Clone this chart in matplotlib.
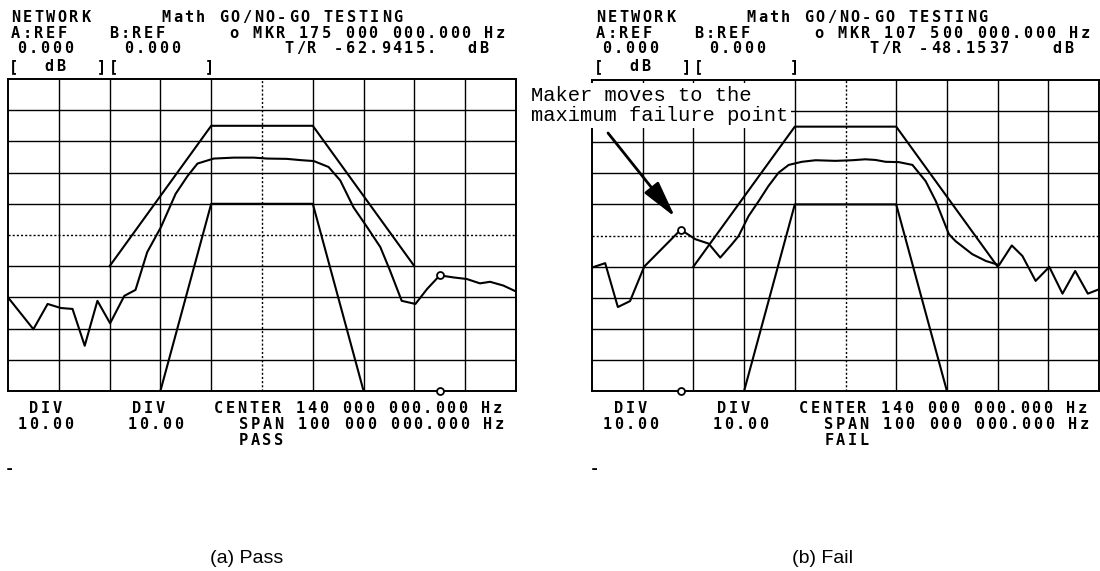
import matplotlib
matplotlib.use('Agg')
import matplotlib.pyplot as plt

# Datos (frecuencia en MHz, nivel en dB)
frec_pasa = [90, 95, 97.8, 100.4, 102.7, 105.1, 107.6, 110.1, 112.9, 115.1, 117.4, 120.1, 123, 125.3,
             127.3, 130.5, 134.5, 138.4, 141, 144.9, 147.6, 150.2, 153.1, 155.4, 158, 160.7, 163.3,
             165.2, 167.5, 170.2, 172.5, 175, 177.7, 180.3, 182.9, 184.9, 187.5, 190]
db_pasa = [-70, -80.2, -72.1, -73.4, -73.7, -85.5, -71.1, -78.3, -69.5, -67.6, -55.5, -47.5, -36.8, -31.2,
           -27.1, -25.5, -25.2, -25.2, -25.5, -25.6, -26, -26.3, -28.2, -32.5, -41.1, -47.5, -53.9,
           -61.4, -71.1, -72.1, -67.3, -62.94, -63.6, -64.1, -65.5, -65, -66.2, -68.1]

frec_falla = [90, 92.6, 95.1, 97.5, 100.3, 107.5, 110.4, 113, 115.3, 117.6, 118.9, 120.9, 122.9, 124.8,
              126.8, 128.8, 131.4, 134.1, 138, 141.3, 143.9, 145.9, 147.9, 150.5, 153.2, 155.8, 157.8,
              160.4, 161.7, 165, 167.7, 170.3, 172.8, 174.9, 177.5, 180.2, 182.8, 185.3, 187.8, 190]
db_falla = [-60.3, -58.9, -73, -71.1, -60, -48.15, -51.2, -52.6, -57.1, -52.8, -50.2, -43.7, -38.9, -34.1,
            -29.8, -27.3, -26.3, -25.8, -26, -25.8, -25.5, -25.7, -26.3, -26.4, -27.3, -32.5, -38.9,
            -49.6, -51.8, -56, -58.2, -59.5, -53.2, -56.6, -64.6, -60.1, -68.7, -61.4, -68.7, -67.3]

frec_lim_sup = [110, 130, 150, 170]
db_lim_sup = [-60, -15, -15, -60]
frec_lim_inf = [120, 130, 150, 160]
db_lim_inf = [-100, -40, -40, -100]

mkr_pasa = (175.0, -62.9415)
mkr_falla = (107.5, -48.1537)

W, H = 1100, 571
PASO = 11.6
fuente = dict(family='DejaVu Sans Mono', fontweight='bold', fontsize=11)

fig = plt.figure(figsize=(11, 5.71), dpi=100)


def caja(x0, y0, x1, y1):
    return [x0 / W, 1 - y1 / H, (x1 - x0) / W, (y1 - y0) / H]


def pantalla(ax, frec, db, mkr):
    ax.set_xlim(90, 190)
    ax.set_ylim(-100, 0)
    ax.set_xticks([])
    ax.set_yticks([])
    for s in ax.spines.values():
        s.set_linewidth(1.4)
    for f in range(100, 190, 10):
        ax.axvline(f, color='k', lw=1.0, ls=(0, (1.5, 1.5)) if f == 140 else '-')
    for d in range(-90, 0, 10):
        ax.axhline(d, color='k', lw=1.0, ls=(0, (1.5, 1.5)) if d == -50 else '-')
    ax.plot(frec_lim_sup, db_lim_sup, color='k', lw=1.5)
    ax.plot(frec_lim_inf, db_lim_inf, color='k', lw=1.5)
    ax.plot(frec, db, color='k', lw=1.5)
    ax.plot([mkr[0]], [mkr[1]], 'o', mfc='white', mec='k', ms=5, mew=1.3, zorder=5)
    ax.plot([mkr[0]], [-100], 'o', mfc='white', mec='k', ms=5, mew=1.3, zorder=5, clip_on=False)


def mono(ax, x, y, s):
    # texto de paso fijo, como en la pantalla del analizador
    for i, c in enumerate(s):
        if c != ' ':
            ax.text(x + i * PASO + PASO / 2, y, c, ha='center', va='baseline', **fuente)


def encabezado(ax, dx, mkr_txt, tr_txt, estado):
    mono(ax, dx + 10, 22, 'NETWORK')
    mono(ax, dx + 160, 22, 'Math GO/NO-GO TESTING')
    mono(ax, dx + 10, 38, 'A:REF')
    mono(ax, dx + 108, 38, 'B:REF')
    mono(ax, dx + 228, 38, 'o MKR ' + mkr_txt + ' Hz')
    mono(ax, dx + 16, 53, '0.000')
    mono(ax, dx + 123, 53, '0.000')
    mono(ax, dx + 283, 53, 'T/R')
    mono(ax, dx + 333, 53, tr_txt)
    mono(ax, dx + 466, 53, 'dB')
    mono(ax, dx + 8, 71, '[')
    mono(ax, dx + 43, 71, 'dB')
    mono(ax, dx + 96, 71, '][')
    mono(ax, dx + 204, 71, ']')
    mono(ax, dx + 28, 413, 'DIV')
    mono(ax, dx + 16, 429, '10.00')
    mono(ax, dx + 131, 413, 'DIV')
    mono(ax, dx + 126, 429, '10.00')
    mono(ax, dx + 213, 413, 'CENTER 140 000 000.000 Hz')
    mono(ax, dx + 238, 429, 'SPAN 100 000 000.000 Hz')
    mono(ax, dx + 238, 445, estado)
    mono(ax, dx + 4, 473, '-')


ax1 = fig.add_axes(caja(8, 79, 516, 391))
ax2 = fig.add_axes(caja(592, 80, 1099, 391))
pantalla(ax1, frec_pasa, db_pasa, mkr_pasa)
pantalla(ax2, frec_falla, db_falla, mkr_falla)

capa = fig.add_axes([0, 0, 1, 1])
capa.set_xlim(0, W)
capa.set_ylim(H, 0)
capa.axis('off')

encabezado(capa, 0, '175 000 000.000', '-62.9415.', 'PASS')
encabezado(capa, 585, '107 500 000.000', '-48.1537', 'FAIL')

capa.text(531, 86, 'Maker moves to the\nmaximum failure point', ha='left', va='top',
          family='Liberation Mono', fontsize=14.8, linespacing=1.05,
          bbox=dict(facecolor='white', edgecolor='none', pad=2))
capa.annotate('', xy=(675, 217), xytext=(608, 133),
              arrowprops=dict(arrowstyle='-|>,head_length=0.9,head_width=0.22', mutation_scale=25,
                              lw=2, color='k', shrinkA=0, shrinkB=0))

capa.text(247, 563, '(a) Pass', ha='center', va='baseline', family='Liberation Sans', fontsize=14)
capa.text(822, 563, '(b) Fail', ha='center', va='baseline', family='Liberation Sans', fontsize=14)

fig.savefig('out.png', dpi=100)
